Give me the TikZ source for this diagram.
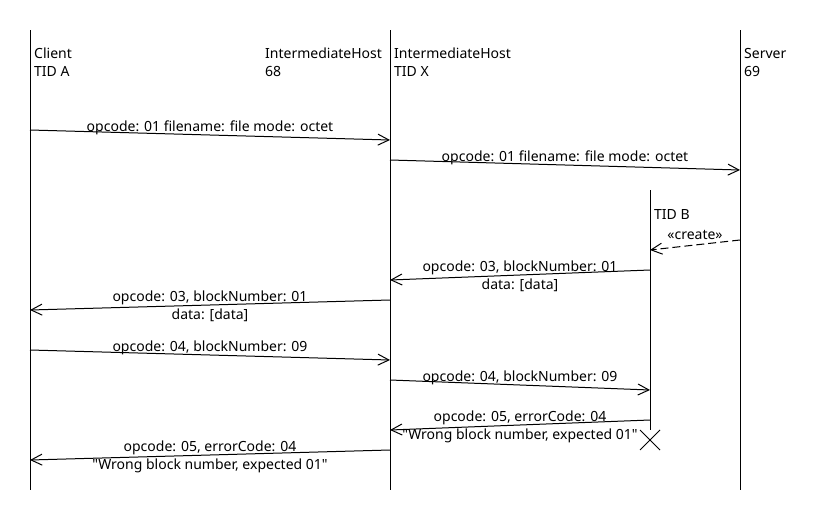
\documentclass[tikz,border=0pt]{standalone}
\usepackage{fontspec}
\setmainfont{Noto Sans}[Ligatures=TeXOff]
\usetikzlibrary{arrows.meta}
\begin{document}
\begin{tikzpicture}[x=1pt,y=-1pt,
  every node/.style={inner sep=0pt,font=\fontsize{14}{18}\selectfont},
  life/.style={line width=1pt,black},
  msg/.style={line width=1pt,-{Straight Barb[length=11pt,width=11pt,line width=1pt]}},
  crt/.style={msg,dash pattern=on 8pt off 4pt},
  head/.style={anchor=north west,align=left},
  lbl/.style={midway,anchor=north,align=center,yshift=15pt}]
\useasboundingbox (0,0) rectangle (820,530);
% heads
\node[head] (hA) at (34,48) {Client\\TID A};
\node[head] (hI) at (265,48) {IntermediateHost\\68};
\node[head] (hX) at (394,48) {IntermediateHost\\TID X};
\node[head] (hS) at (744,48) {Server\\69};
\node[head] (hB) at (654,209) {TID B};
% lifelines
\coordinate (cT) at (30,30); \coordinate (cB) at (30,490);
\coordinate (xT) at (390,30); \coordinate (xB) at (390,490);
\coordinate (sT) at (740,30); \coordinate (sB) at (740,490);
\coordinate (bT) at (650,190); \coordinate (bB) at (650,430);
\draw[life] (cT) -- (cB);
\draw[life] (xT) -- (xB);
\draw[life] (sT) -- (sB);
\draw[life] (bT) -- (bB);
% destroy
\coordinate (d) at (650,440);
\draw[life] ([shift={(-10,-10)}]d) -- ([shift={(10,10)}]d)
            ([shift={(10,-10)}]d) -- ([shift={(-10,10)}]d);
% message endpoints
\coordinate (m1a) at (30,130);  \coordinate (m1b) at (390,140);
\coordinate (m2a) at (390,160); \coordinate (m2b) at (740,170);
\coordinate (m3a) at (740,240); \coordinate (m3b) at (650,250);
\coordinate (m4a) at (650,270); \coordinate (m4b) at (390,280);
\coordinate (m5a) at (390,300); \coordinate (m5b) at (30,310);
\coordinate (m6a) at (30,350);  \coordinate (m6b) at (390,360);
\coordinate (m7a) at (390,380); \coordinate (m7b) at (650,390);
\coordinate (m8a) at (650,420); \coordinate (m8b) at (390,430);
\coordinate (m9a) at (390,450); \coordinate (m9b) at (30,460);
\draw[msg] (m1a) -- node[lbl] (l1) {opcode: 01 filename: file mode: octet} (m1b);
\draw[msg] (m2a) -- node[lbl] (l2) {opcode: 01 filename: file mode: octet} (m2b);
\draw[crt] (m3a) -- node[lbl] (l3) {«create»} (m3b);
\draw[msg] (m4a) -- node[lbl] (l4) {opcode: 03, blockNumber: 01\\data: [data]} (m4b);
\draw[msg] (m5a) -- node[lbl] (l5) {opcode: 03, blockNumber: 01\\data: [data]} (m5b);
\draw[msg] (m6a) -- node[lbl] (l6) {opcode: 04, blockNumber: 09} (m6b);
\draw[msg] (m7a) -- node[lbl] (l7) {opcode: 04, blockNumber: 09} (m7b);
\draw[msg] (m8a) -- node[lbl] (l8) {opcode: 05, errorCode: 04\\"Wrong block number, expected 01"} (m8b);
\draw[msg] (m9a) -- node[lbl] (l9) {opcode: 05, errorCode: 04\\"Wrong block number, expected 01"} (m9b);
\end{tikzpicture}
\end{document}
